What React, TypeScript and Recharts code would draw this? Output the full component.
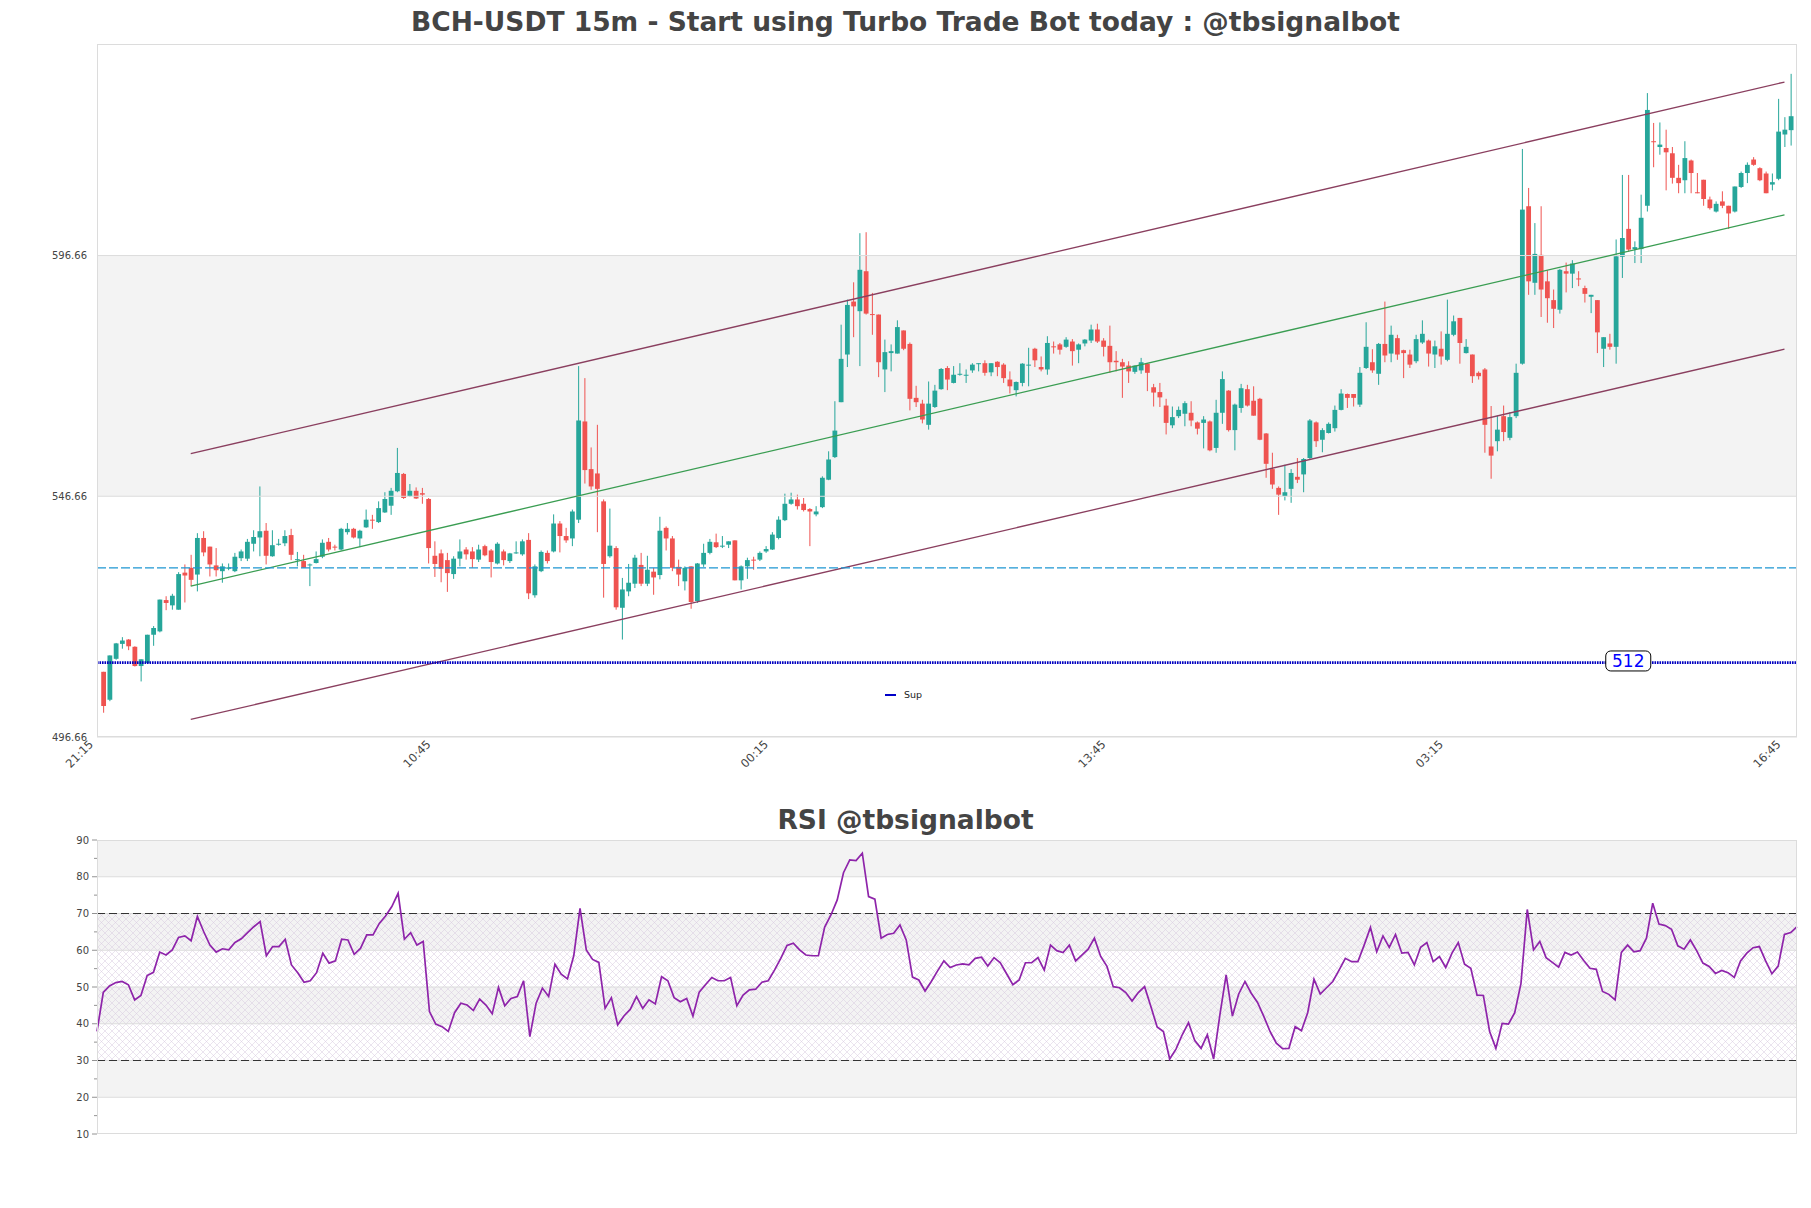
import React from 'react';
import {
  ComposedChart, Bar, Line, XAxis, YAxis, ReferenceLine, ReferenceArea, ReferenceDot,
} from 'recharts';

// 15m candles, index 0 = 21:30
const opens = [
  510.2, 504.4, 512.9, 516.0, 516.9, 515.4, 511.4, 512.0, 517.9, 518.6,
  525.1, 524.0, 523.1, 530.8, 531.8, 530.4, 538.0, 536.2, 532.3, 531.1,
  531.6, 531.1, 533.8, 533.7, 536.8, 538.1, 539.5, 534.2, 536.6, 536.9,
  538.6, 533.5, 533.2, 532.4, 532.8, 534.1, 537.2, 536.2, 535.6, 539.2,
  539.9, 537.9, 540.2, 541.8, 541.3, 543.3, 544.7, 547.7, 551.3, 546.7,
  547.8, 547.3, 546.1, 534.3, 534.8, 533.4, 530.5, 533.7, 535.6, 535.2,
  533.5, 536.3, 535.4, 532.7, 535.2, 533.2, 534.8, 534.6, 537.6, 526.1,
  531.1, 534.9, 535.2, 541.0, 538.4, 537.9, 541.8, 562.2, 552.3, 551.4,
  545.6, 534.2, 535.9, 523.5, 526.9, 528.5, 532.4, 528.5, 531.0, 530.3,
  540.1, 537.9, 532.0, 529.0, 532.1, 524.9, 532.5, 534.9, 537.1, 536.3,
  536.6, 537.5, 529.2, 532.1, 533.5, 533.5, 535.2, 535.6, 538.0, 541.7,
  545.1, 546.0, 545.1, 544.0, 542.9, 544.4, 550.1, 554.8, 566.2, 576.1,
  587.1, 585.1, 593.4, 584.5, 584.4, 573.0, 576.4, 576.3, 581.1, 578.3,
  567.1, 565.9, 561.5, 565.2, 568.9, 573.3, 570.2, 571.9, 571.8, 572.8,
  574.1, 574.3, 572.4, 574.6, 574.0, 570.9, 568.7, 570.2, 573.9, 577.3,
  573.5, 573.0, 577.8, 578.2, 577.7, 578.8, 577.1, 578.4, 579.0, 581.3,
  579.0, 577.9, 574.8, 574.5, 573.8, 572.5, 572.8, 574.2, 569.3, 568.3,
  565.5, 561.4, 563.3, 563.8, 564.0, 562.0, 561.9, 562.2, 556.7, 564.0,
  568.6, 560.4, 565.0, 568.9, 566.5, 566.9, 559.7, 552.3, 548.4, 546.7,
  548.2, 550.7, 551.2, 554.6, 562.0, 558.4, 559.8, 560.8, 564.6, 567.9,
  567.9, 565.7, 573.3, 574.5, 572.1, 578.3, 576.3, 579.5, 577.0, 576.1,
  574.7, 578.6, 579.0, 576.1, 577.3, 575.0, 580.2, 583.7, 576.4, 576.1,
  572.3, 573.0, 557.0, 558.1, 563.3, 558.8, 563.3, 574.2, 606.9, 591.0,
  596.8, 591.3, 587.4, 585.4, 593.4, 592.9, 591.9, 589.9, 588.1, 587.4,
  577.3, 578.4, 577.7, 596.4, 602.2, 598.0, 598.0, 607.0, 620.4, 619.2,
  619.0, 617.9, 612.8, 612.3, 616.4, 609.8, 612.4, 608.3, 605.8, 607.9,
  607.0, 605.8, 610.9, 613.8, 616.6, 614.8, 613.7, 611.4, 612.6, 621.8,
  622.7,
];
const highs = [
  510.2, 513.6, 516.2, 517.4, 517.0, 515.5, 512.8, 517.9, 519.7, 525.2,
  525.9, 526.4, 530.9, 532.5, 534.5, 539.0, 539.4, 536.2, 535.9, 532.7,
  532.7, 534.9, 535.6, 537.8, 539.6, 548.7, 541.1, 539.6, 537.8, 539.6,
  539.9, 535.1, 534.5, 532.7, 535.2, 537.7, 538.0, 536.6, 540.1, 541.1,
  540.1, 539.7, 543.9, 542.8, 545.6, 547.5, 548.4, 556.7, 551.5, 549.2,
  548.5, 548.4, 546.3, 537.3, 535.6, 534.9, 534.2, 537.7, 536.1, 536.1,
  536.6, 536.6, 535.7, 537.1, 535.6, 534.9, 537.3, 537.7, 539.0, 532.5,
  535.4, 535.4, 542.9, 541.5, 540.1, 543.9, 573.7, 571.2, 556.8, 561.5,
  546.0, 544.1, 536.3, 529.7, 532.6, 534.5, 534.9, 534.3, 531.8, 542.4,
  540.4, 538.4, 533.5, 532.1, 532.1, 532.8, 536.8, 537.8, 538.9, 538.4,
  537.3, 537.5, 532.3, 533.9, 534.1, 535.2, 536.3, 539.2, 542.5, 547.2,
  547.4, 547.0, 546.3, 544.2, 544.6, 550.8, 556.0, 566.4, 582.3, 587.5,
  591.1, 601.3, 601.5, 588.9, 584.4, 579.2, 578.2, 583.2, 581.1, 578.6,
  569.6, 566.7, 570.5, 569.8, 573.3, 573.7, 573.7, 574.3, 573.0, 574.3,
  574.3, 574.9, 574.3, 574.7, 574.3, 572.6, 570.5, 574.3, 577.5, 577.5,
  575.7, 579.9, 578.8, 578.5, 579.7, 579.3, 578.4, 579.3, 582.3, 582.5,
  579.5, 582.1, 576.8, 575.2, 574.7, 573.8, 575.4, 574.3, 570.0, 570.2,
  566.9, 565.3, 565.3, 566.4, 566.4, 562.2, 563.3, 562.4, 566.7, 572.6,
  568.7, 565.9, 570.0, 569.8, 569.5, 567.1, 559.8, 555.7, 548.7, 553.2,
  552.3, 554.6, 554.6, 562.7, 562.2, 560.8, 562.0, 565.5, 568.9, 568.0,
  567.9, 573.5, 582.8, 577.2, 578.5, 587.1, 582.1, 580.2, 577.1, 577.1,
  580.2, 583.2, 579.2, 579.0, 580.9, 587.5, 584.2, 583.7, 579.3, 576.1,
  572.6, 573.3, 565.4, 563.4, 565.5, 564.1, 574.2, 618.8, 610.7, 603.4,
  606.9, 593.6, 589.6, 593.9, 595.2, 595.7, 593.4, 590.4, 588.5, 587.4,
  579.7, 580.4, 600.0, 613.4, 613.4, 599.6, 609.3, 630.4, 624.2, 624.3,
  622.8, 619.2, 615.5, 620.4, 616.6, 613.8, 612.4, 608.9, 607.9, 610.0,
  607.0, 611.0, 614.1, 616.0, 617.1, 615.0, 614.1, 613.7, 629.2, 625.4,
  634.4,
];
const lows = [
  501.7, 504.1, 512.7, 515.0, 514.7, 511.3, 508.2, 512.0, 515.6, 518.4,
  523.0, 523.1, 523.1, 524.6, 528.0, 526.9, 534.2, 530.0, 530.0, 528.7,
  531.3, 530.9, 533.2, 533.2, 535.2, 534.2, 532.5, 534.1, 536.4, 536.3,
  533.4, 532.1, 531.8, 528.0, 532.7, 533.8, 535.2, 535.4, 535.4, 538.7,
  537.9, 536.1, 540.1, 539.9, 541.1, 543.2, 542.8, 547.5, 546.1, 546.5,
  546.1, 545.1, 532.7, 529.9, 528.8, 526.8, 529.5, 532.1, 533.5, 531.8,
  533.0, 534.2, 529.8, 532.5, 532.3, 532.8, 534.7, 534.3, 525.3, 525.6,
  530.9, 532.7, 535.0, 535.0, 537.0, 536.3, 541.1, 549.3, 548.0, 539.2,
  525.6, 533.9, 523.1, 516.9, 525.9, 527.6, 528.0, 528.0, 526.2, 529.4,
  535.4, 531.1, 528.0, 527.1, 523.3, 524.5, 532.0, 534.6, 535.9, 535.9,
  535.9, 529.2, 527.3, 529.5, 531.4, 533.2, 534.9, 535.5, 537.7, 541.5,
  544.9, 543.9, 543.5, 536.3, 542.5, 544.2, 550.0, 554.6, 566.2, 573.5,
  579.7, 573.7, 584.4, 580.2, 571.4, 568.3, 572.6, 576.3, 577.0, 564.5,
  565.2, 561.8, 560.5, 565.0, 568.8, 568.7, 570.1, 571.7, 570.2, 572.3,
  572.6, 571.7, 571.6, 571.6, 570.2, 568.0, 567.4, 569.5, 569.5, 573.5,
  572.6, 571.9, 576.3, 576.1, 577.5, 573.8, 574.3, 577.8, 578.5, 578.5,
  575.7, 572.3, 572.6, 567.1, 570.2, 572.1, 572.1, 568.5, 565.3, 565.2,
  559.5, 560.8, 562.9, 561.2, 561.2, 559.5, 556.6, 556.0, 555.7, 561.7,
  560.1, 556.2, 564.0, 565.3, 563.4, 558.3, 550.5, 548.2, 542.8, 545.8,
  545.3, 549.4, 547.5, 554.3, 556.9, 555.8, 559.7, 560.1, 564.5, 565.0,
  565.3, 565.2, 573.1, 572.3, 569.8, 574.5, 574.5, 575.0, 571.2, 573.3,
  574.3, 578.3, 573.6, 573.3, 574.0, 574.7, 579.9, 574.2, 576.3, 570.2,
  570.9, 555.7, 550.3, 556.0, 558.1, 558.3, 562.9, 574.0, 588.5, 588.5,
  583.9, 582.7, 581.6, 584.6, 589.0, 589.9, 590.3, 586.9, 584.7, 576.4,
  573.5, 577.1, 574.2, 592.0, 597.5, 595.1, 595.1, 605.8, 615.0, 617.6,
  610.2, 611.6, 609.6, 609.6, 609.6, 609.6, 607.0, 606.2, 605.6, 606.5,
  602.2, 605.6, 610.7, 611.7, 615.3, 612.1, 609.6, 610.2, 612.3, 619.2,
  619.5,
];
const closes = [
  503.1, 513.6, 516.1, 516.7, 515.5, 511.4, 512.8, 517.9, 519.3, 525.2,
  524.5, 526.0, 530.5, 530.2, 529.3, 538.0, 535.0, 532.5, 531.3, 532.1,
  531.9, 534.1, 535.2, 537.2, 538.2, 539.4, 534.3, 536.5, 536.8, 538.4,
  534.5, 533.6, 531.8, 532.5, 533.6, 537.0, 535.6, 536.1, 539.9, 539.9,
  538.1, 539.5, 541.8, 541.7, 544.2, 546.1, 547.8, 551.5, 546.3, 547.8,
  546.2, 547.0, 535.9, 532.6, 531.6, 530.7, 533.7, 535.2, 534.6, 533.6,
  535.6, 534.4, 533.0, 536.8, 533.4, 534.8, 535.0, 537.3, 526.5, 532.1,
  535.1, 533.2, 541.0, 538.4, 537.5, 543.5, 562.4, 552.1, 548.7, 548.2,
  532.6, 536.4, 523.6, 527.3, 528.7, 533.9, 528.5, 531.4, 529.8, 539.5,
  537.9, 531.8, 530.4, 531.8, 524.7, 532.7, 534.9, 537.2, 536.1, 536.4,
  537.3, 529.2, 532.1, 533.4, 533.4, 534.9, 535.7, 538.7, 541.8, 545.1,
  546.0, 544.6, 543.8, 543.5, 543.5, 550.5, 554.3, 560.3, 575.2, 586.4,
  586.1, 593.7, 584.6, 584.4, 574.5, 576.6, 576.8, 581.8, 577.3, 566.9,
  566.2, 562.6, 565.9, 568.6, 573.1, 570.9, 571.9, 572.1, 571.9, 574.0,
  574.3, 572.3, 574.3, 573.5, 571.2, 569.5, 570.4, 574.2, 574.0, 574.9,
  573.0, 578.5, 577.7, 577.1, 579.2, 576.8, 578.2, 579.2, 581.3, 578.8,
  577.7, 574.5, 574.5, 573.6, 572.6, 573.8, 574.5, 572.3, 568.2, 567.2,
  561.9, 563.1, 564.6, 566.0, 562.4, 560.7, 562.6, 556.2, 564.0, 571.0,
  560.4, 565.7, 569.1, 565.5, 563.4, 558.4, 553.4, 549.1, 547.0, 547.5,
  551.5, 550.1, 554.4, 562.4, 558.1, 560.4, 561.7, 564.6, 568.0, 567.1,
  567.1, 572.3, 577.7, 572.8, 578.3, 575.9, 580.2, 576.1, 576.4, 574.0,
  579.3, 580.4, 576.3, 577.8, 575.7, 580.4, 583.0, 578.5, 577.7, 571.6,
  571.6, 561.5, 555.1, 560.5, 560.0, 563.1, 572.3, 606.2, 591.3, 597.0,
  589.6, 587.8, 585.6, 593.7, 592.9, 595.0, 591.8, 588.7, 588.5, 580.7,
  579.7, 577.7, 596.5, 600.3, 597.9, 598.4, 604.5, 626.9, 620.3, 619.7,
  618.1, 612.8, 611.7, 616.9, 613.8, 609.6, 608.4, 606.5, 607.4, 607.0,
  605.4, 611.0, 613.8, 615.5, 615.5, 612.3, 609.6, 611.9, 622.4, 622.8,
  625.6,
];

const timeTicks = [-1, 53, 107, 161, 215, 269];
const timeLabels = ['21:15', '10:45', '00:15', '13:45', '03:15', '16:45'];
const priceTicks = [496.66, 546.66, 596.66];

// regression channel end points
const channelIdx = [14, 269];
const channelUpper = [555.5, 632.7];
const channelMid = [528.0, 605.1];
const channelLower = [500.3, 577.2];

const levelLine = 531.8;
const supLevel = 512.1;
const supLabel = '512';
const supLabelIdx = 244;

const rsi = [
  37.9, 48.5, 50.3, 51.2, 51.5, 50.6, 46.5, 47.7, 53.1, 54.0,
  59.5, 58.7, 60.1, 63.5, 63.9, 62.6, 69.2, 65.1, 61.4, 59.5,
  60.4, 60.1, 62.1, 63.1, 64.8, 66.4, 67.8, 58.5, 61.0, 61.0,
  63.0, 56.0, 53.9, 51.3, 51.7, 53.9, 59.2, 56.5, 57.1, 63.0,
  62.8, 58.9, 60.5, 64.2, 64.2, 67.3, 69.3, 71.9, 75.5, 63.0,
  64.8, 61.4, 62.4, 43.3, 39.9, 39.2, 37.9, 43.0, 45.6, 45.1,
  43.6, 46.7, 45.1, 42.7, 49.9, 44.9, 46.9, 47.4, 51.7, 36.5,
  45.6, 49.7, 47.4, 56.2, 53.5, 52.2, 58.5, 71.4, 60.1, 57.5,
  56.7, 44.2, 47.1, 39.7, 42.1, 43.9, 47.4, 44.2, 46.5, 45.4,
  52.8,
  51.7, 47.1, 46.0, 46.9, 42.1, 48.6, 50.6, 52.6, 51.7, 51.7,
  52.6, 44.9, 47.8, 49.2, 49.4, 51.3, 51.7, 54.6, 57.8, 61.3,
  61.9, 60.1, 58.7, 58.5, 58.5, 66.3, 69.6, 73.7, 81.1, 84.6,
  84.4, 86.4, 74.6, 73.9, 63.3, 64.3, 64.6, 66.9, 62.8, 52.7,
  51.9, 48.9, 51.5, 54.4, 57.1, 55.3, 56.0, 56.3, 56.0, 57.8,
  58.1, 55.7, 58.0, 56.6, 53.6, 50.6, 51.9, 56.6, 56.6, 58.0,
  54.6, 61.4, 59.9, 59.4, 61.4, 57.1, 58.7, 60.3, 63.3, 58.3,
  55.6, 50.1, 49.8, 48.5, 46.2, 48.5, 50.1, 44.7, 39.1, 37.9,
  30.4, 33.1, 37.0, 40.3, 35.4, 33.3, 37.0, 30.4, 42.4, 53.3,
  42.1, 48.1, 51.5, 48.3, 45.8, 42.0, 37.9, 34.7, 33.2, 33.3,
  39.2, 38.1, 43.0, 52.1, 48.1, 49.8, 51.5, 54.6, 57.8, 56.9,
  56.9, 61.4, 66.2, 59.6, 63.9, 60.8, 64.3, 59.2, 59.4, 56.0,
  60.8, 62.1, 56.9, 58.3, 55.3, 59.2, 62.1, 56.2, 55.1, 47.8,
  47.7, 37.9, 33.3, 40.1, 39.9, 43.0, 51.0, 71.1, 60.1, 62.4,
  58.0, 56.7, 55.4, 59.4, 58.7, 59.5, 57.2, 55.1, 54.8, 48.8,
  48.0, 46.5, 59.4, 61.4, 59.6, 59.9, 63.3, 72.8, 67.1, 66.7,
  65.7, 61.2, 60.3, 62.8, 59.9, 56.5, 55.6, 53.7, 54.5, 53.9,
  52.6, 57.1, 59.2, 60.7, 61.0, 57.1, 53.6, 55.7, 64.3, 64.8,
  66.4,
];
const rsiTicks = [10, 15, 20, 25, 30, 35, 40, 45, 50, 55, 60, 65, 70, 75, 80, 85, 90];
const rsiGrid = [20, 30, 40, 50, 60, 70, 80];
const rsiShaded = [[20, 30], [40, 50], [60, 70], [80, 90]];
const rsiLevels = [30, 70];

const FONT = '"DejaVu Sans", sans-serif';
const UP = '#26a69a';
const DOWN = '#ef5350';
const W = 1811;

const candles = opens.map((o, i) => {
  const row: any = { i, o, h: highs[i], l: lows[i], c: closes[i], range: [lows[i], highs[i]] };
  const k = channelIdx.indexOf(i);
  if (k >= 0) {
    row.up = channelUpper[k];
    row.mid = channelMid[k];
    row.lo = channelLower[k];
  }
  return row;
});

const rsiData = rsi.map((v, k) => ({ k, v }));

function Candle(props: any) {
  const { x, y, width, height, payload } = props;
  if (!payload || x == null || y == null) return null;
  const top = Math.min(y, y + height);
  const bot = Math.max(y, y + height);
  const { o, h, l, c } = payload;
  const span = h - l || 1;
  const py = (v: number) => top + ((h - v) / span) * (bot - top);
  const cx = x + width / 2;
  const color = c >= o ? UP : DOWN;
  const b1 = py(Math.max(o, c));
  const b2 = py(Math.min(o, c));
  return (
    <g>
      <line x1={cx} x2={cx} y1={top} y2={bot} stroke={color} strokeWidth={1} />
      <rect x={cx - 2.4} y={b1} width={4.8} height={Math.max(b2 - b1, 1)} fill={color} />
    </g>
  );
}

function TimeTick({ x, y, payload }: any) {
  const label = timeLabels[timeTicks.indexOf(payload.value)];
  const ax = x - 3;
  const ay = y + 8;
  return (
    <text x={ax} y={ay} transform={`rotate(-45 ${ax} ${ay})`} textAnchor="end"
      fontSize={11.5} fill="#444" fontFamily={FONT}>
      {label}
    </text>
  );
}

function RsiTick({ x, y, payload }: any) {
  const major = payload.value % 10 === 0;
  const len = major ? 5 : 3;
  return (
    <g>
      <line x1={x - len} x2={x} y1={y} y2={y} stroke="#777" strokeWidth={0.8} />
      {major && (
        <text x={x - len - 3} y={y} dy="0.35em" textAnchor="end" fontSize={10} fill="#444" fontFamily={FONT}>
          {payload.value}
        </text>
      )}
    </g>
  );
}

function SupTag({ cx, cy }: any) {
  if (cx == null) return null;
  return (
    <g>
      <rect x={cx - 22.5} y={cy - 11.7} width={45} height={20} rx={5} fill="#fff" stroke="#000" strokeWidth={1} />
      <text x={cx} y={cy - 1.7} dy="0.36em" textAnchor="middle" fontSize={17} fill="#0000ff" fontFamily={FONT}>
        {supLabel}
      </text>
    </g>
  );
}

const titleStyle: React.CSSProperties = {
  position: 'absolute', left: 0, width: W, textAlign: 'center', fontFamily: FONT,
  fontWeight: 'bold', fontSize: 26.5, lineHeight: '27px', color: '#444', whiteSpace: 'nowrap',
};

const frame = (top: number, height: number): React.CSSProperties => ({
  position: 'absolute', left: 97, top, width: 1700, height, border: '1px solid #dcdcdc',
  boxSizing: 'border-box', pointerEvents: 'none',
});

export default function App() {
  return (
    <div style={{ position: 'absolute', left: 0, top: 0, width: W, height: 1208, background: '#fff', overflow: 'hidden' }}>
      <div style={{ ...titleStyle, top: 8 }}>BCH-USDT 15m - Start using Turbo Trade Bot today : @tbsignalbot</div>

      <div style={{ position: 'absolute', left: 0, top: 0 }}>
        <ComposedChart width={W} height={790} data={candles} margin={{ top: 43.5, right: 14, bottom: 0, left: 0 }}>
          <XAxis type="number" dataKey="i" domain={[-1, 271]} ticks={timeTicks} interval={0}
            tick={TimeTick} tickLine={false} axisLine={false} tickSize={0} tickMargin={0} height={53} allowDataOverflow />
          <YAxis type="number" domain={[496.66, 640.7]} ticks={priceTicks} interval={0} width={97}
            tickLine={false} axisLine={false} tickSize={0} tickMargin={10} allowDataOverflow
            tick={{ fontSize: 10, fill: '#444', fontFamily: FONT }} tickFormatter={(v: number) => v.toFixed(2)} />
          <ReferenceArea y1={priceTicks[1]} y2={priceTicks[2]} fill="#f3f3f3" fillOpacity={1} stroke="none" />
          {priceTicks.map((v) => (
            <ReferenceLine key={v} y={v} stroke="#dcdcdc" strokeWidth={1} />
          ))}
          <Line dataKey="up" stroke="#8a3f5f" strokeWidth={1.3} dot={false} connectNulls isAnimationActive={false} />
          <Line dataKey="mid" stroke="#3a9d52" strokeWidth={1.3} dot={false} connectNulls isAnimationActive={false} />
          <Line dataKey="lo" stroke="#8a3f5f" strokeWidth={1.3} dot={false} connectNulls isAnimationActive={false} />
          <ReferenceLine y={levelLine} stroke="#1e96d2" strokeWidth={1.3} strokeDasharray="9 3" />
          <Bar dataKey="range" barSize={5} shape={(p: any) => <Candle {...p} />} isAnimationActive={false} />
          <ReferenceLine y={supLevel} stroke="#0000c0" strokeWidth={2.6} strokeDasharray="1.6 0.9" />
          <ReferenceDot x={supLabelIdx} y={supLevel} r={10} shape={(p: any) => <SupTag {...p} />} />
        </ComposedChart>
      </div>
      <div style={frame(43.5, 693.5)} />

      <div style={{ position: 'absolute', left: 885, top: 689, display: 'flex', alignItems: 'center', fontFamily: FONT, fontSize: 9.5, color: '#222' }}>
        <span style={{ display: 'inline-block', width: 11, height: 2, background: '#0000c8', marginRight: 8 }} />
        <span>Sup</span>
      </div>

      <div style={{ ...titleStyle, top: 806 }}>RSI @tbsignalbot</div>

      <div style={{ position: 'absolute', left: 0, top: 800 }}>
        <ComposedChart width={W} height={340} data={rsiData} margin={{ top: 40, right: 14, bottom: 6, left: 0 }}>
          <defs>
            <pattern id="rsiHatch" width="7" height="7" patternUnits="userSpaceOnUse">
              <path d="M0,0 L7,7 M7,0 L0,7" stroke="#d6c8de" strokeWidth="0.5" />
            </pattern>
          </defs>
          <XAxis type="number" dataKey="k" domain={[0, rsi.length - 1]} hide />
          <YAxis type="number" domain={[10, 90]} ticks={rsiTicks} interval={0} width={97}
            tick={RsiTick} tickLine={false} axisLine={false} tickSize={0} tickMargin={0} />
          {rsiShaded.map(([a, b]) => (
            <ReferenceArea key={a} y1={a} y2={b} fill="#f3f3f3" fillOpacity={1} stroke="none" />
          ))}
          <ReferenceArea y1={rsiLevels[0]} y2={rsiLevels[1]} fill="url(#rsiHatch)" fillOpacity={1} stroke="none" />
          {rsiGrid.map((v) => (
            <ReferenceLine key={v} y={v} stroke="#dcdcdc" strokeWidth={1} />
          ))}
          {rsiLevels.map((v) => (
            <ReferenceLine key={`l${v}`} y={v} stroke="#333" strokeWidth={1.2} strokeDasharray="8 4" />
          ))}
          <Line dataKey="v" stroke="#8e24aa" strokeWidth={1.7} dot={false} isAnimationActive={false} />
        </ComposedChart>
      </div>
      <div style={frame(840, 294)} />
    </div>
  );
}
